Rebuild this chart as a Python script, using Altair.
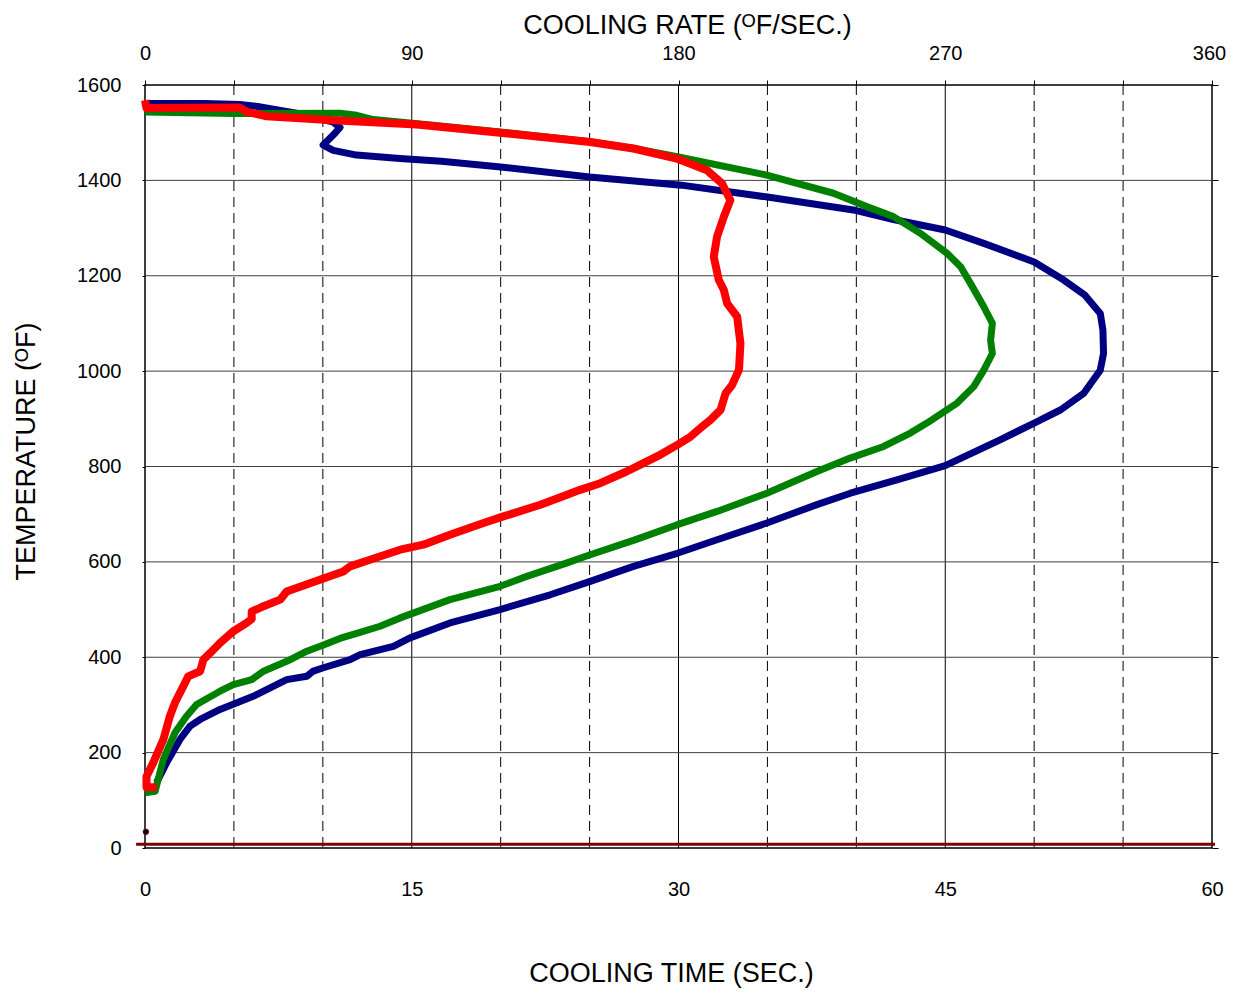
import altair as alt
import pandas as pd

# ---- data (x in cooling-rate units, deg F / sec; y in deg F) ----
blue_rate = [0, 20, 32, 38, 52, 63.5, 65.8, 63.5, 60.1, 63.5, 71.4, 86, 100, 120, 150, 181, 210, 239,
             252.5, 270, 283, 300, 310, 317, 322.3, 323.2, 323.4, 322.3, 316.8, 309, 300, 288.5, 270,
             253.7, 238, 226.7, 209.8, 193, 179.6, 164.8, 150.2, 136.7, 119.8, 102.9, 89.4,
             83.8, 72.6, 69.2, 60.2, 56.8, 54.6, 47.8, 36.5, 25.3, 18.6, 15.2, 11.8, 7.3, 3.9]
blue_temp = [1561, 1561, 1559, 1555, 1540, 1522, 1511, 1495, 1474, 1463, 1453, 1446, 1440, 1428, 1407,
             1390, 1365, 1338, 1318, 1296, 1268, 1229, 1191, 1160, 1121, 1086, 1037, 1002, 954, 919, 891,
             856, 802, 772, 744, 720, 681.5, 646.5, 618, 590.6, 559, 531, 500, 472, 440.6, 423,
             405.7, 395, 378, 371, 360, 353, 318, 290.5, 269.5, 255.5, 227.6, 179, 137]

green_rate = [0, 29.8, 65.8, 71.4, 77, 97.2, 119.8, 150, 165, 180, 209.8, 232.3, 243.5, 252.5, 261.6,
              270.6, 275.2, 278.5, 283, 285.9, 285.3, 285.9, 283, 279.6, 274, 263.8, 258.2, 249.2, 237.9,
              226.7, 209.8, 193, 179.6, 164.8, 150.2, 142.4, 128.8, 119.8, 102.9, 86.1, 79.3, 72, 66, 60,
              54.6, 48, 40, 36, 29.8, 25.3, 17.4, 14, 10.1, 6.2, 3.4, 0]
green_temp = [1543.5, 1540, 1541, 1536.5, 1527.5, 1515.6, 1501.6, 1481, 1467, 1449, 1411, 1373, 1345, 1324,
              1289, 1247, 1219, 1184, 1135, 1100, 1065, 1037, 1002, 967.5, 933, 891, 870, 842, 817.6, 789.5,
              744, 705.8, 678, 645, 615, 598, 569.6, 548.7, 520.8, 482.5, 465, 451, 440, 425, 412.6, 392,
              370.7, 353, 342.8, 328.8, 301, 276.4, 241.7, 185.8, 119, 116]

red_rate = [0, 0.5, 32, 34.3, 41, 63.5, 91.7, 119.8, 150.2, 164.8, 179.4, 189.6, 194.7, 197.5, 195.3, 193,
            191.9, 193.6, 195.3, 196.4, 199.8, 200.9, 200.4, 198.1, 195.9, 194.2, 190.8, 188, 184.1, 179.6,
            173.8, 168.2, 162.5, 153.6, 146.8, 142.4, 133.4, 120.9, 114.2, 102.9, 93.9, 86.1, 75.9, 69.2,
            66.9, 59, 47.8, 45.6, 40, 38.8, 36, 36, 34.3, 29.8, 25.3, 22, 19.7, 18.6, 14.6, 12.9, 10.1,
            8.4, 6.2, 2.8, 0.5, 0.5, 4]
red_temp = [1568, 1552, 1552.6, 1543.5, 1534.5, 1526, 1517, 1500, 1480.6, 1466.8, 1445.8, 1421.4, 1393.5,
            1358.5, 1323.6, 1281.7, 1239.8, 1191, 1170, 1142, 1114, 1058, 1002.5, 971, 953.7, 918.7, 897.8,
            883.8, 862.8, 845.4, 824.5, 807, 789.5, 765, 751, 740.7, 719.8, 695.3, 681.5, 657, 636, 625.5,
            604.6, 590.6, 580, 562.7, 538, 520.8, 507, 503.4, 496, 480, 472, 454.5, 430, 409, 395, 370.7,
            360, 339, 304.5, 276.4, 227.6, 179, 150, 128, 127]

solid_rates = [90, 180, 270]
dashed_rates = [30, 60, 120, 150, 210, 240, 300, 330]
h_grid = [200, 400, 600, 800, 1000, 1200, 1400]
bottom_ticks = [0, 90, 180, 270, 360]          # shown as 0..60 sec
top_ticks = [0, 30, 60, 90, 120, 150, 180, 210, 240, 270, 300, 330, 360]
y_ticks = [0, 200, 400, 600, 800, 1000, 1200, 1400, 1600]
base_line = {"rate": [-3], "rate2": [361], "temp": [8]}
dot = {"rate": [0.3], "temp": [34]}

FONT = "Liberation Sans"


def series_df(r, t):
    return pd.DataFrame({"rate": r, "temp": t, "idx": list(range(len(r)))})


XS = alt.Scale(domain=[0, 360], nice=False, zero=False)
YS = alt.Scale(domain=[0, 1600], nice=False, zero=False)

x_bottom = alt.Axis(values=bottom_ticks, labelExpr="format(datum.value/6, 'd')", ticks=False,
                    domain=False, grid=False, labelFlush=False, labelPadding=31,
                    title="COOLING TIME (SEC.)", titlePadding=61, titleX=526, labelFontSize=20,
                    titleFontSize=27, titleFontWeight="normal", labelColor="black", titleColor="black",
                    labelFont=FONT, titleFont=FONT)
y_left = alt.Axis(values=y_ticks, format="d", ticks=True, tickSize=3, tickColor="black", domain=False,
                  grid=False, labelPadding=21, title="TEMPERATURE  (ᴼF)", titlePadding=36, titleY=366,
                  labelFontSize=20, titleFontSize=27, titleFontWeight="normal", labelColor="black",
                  titleColor="black", labelFont=FONT, titleFont=FONT)
x_top = alt.Axis(orient="top", values=top_ticks,
                 labelExpr="datum.value % 90 == 0 ? datum.label : ''", ticks=True, tickSize=5,
                 tickColor="black", domain=False, grid=False, labelFlush=False, labelPadding=17,
                 labelOffset={"condition": {"test": "datum.value == 360", "value": -3}, "value": 0},
                 labelOverlap=False, title="COOLING RATE (ᴼF/SEC.)", titlePadding=4, titleX=542,
                 labelFontSize=20, titleFontSize=27, titleFontWeight="normal", labelColor="black",
                 titleColor="black", labelFont=FONT, titleFont=FONT)
y_right = alt.Axis(orient="right", values=y_ticks, labels=False, ticks=True, tickSize=6,
                   tickColor="black", domain=False, grid=False, title=None)


def X(field="rate:Q"):
    return alt.X(field, scale=XS, axis=x_bottom)


def Y(field="temp:Q"):
    return alt.Y(field, scale=YS, axis=y_left)


dashed = alt.Chart(pd.DataFrame({"rate": dashed_rates})).mark_rule(
    color="black", strokeWidth=1, strokeDash=[10, 6]).encode(x=X())
solid = alt.Chart(pd.DataFrame({"rate": solid_rates})).mark_rule(
    color="black", strokeWidth=1).encode(x=X())
hgrid = alt.Chart(pd.DataFrame({"temp": h_grid})).mark_rule(
    color="#404040", strokeWidth=1).encode(y=Y())


def curve(r, t, color, w):
    return alt.Chart(series_df(r, t)).mark_line(
        color=color, strokeWidth=w, strokeJoin="round", strokeCap="butt").encode(
        x=X(), y=Y(), order="idx:Q")


blue = curve(blue_rate, blue_temp, "#000080", 7)
green = curve(green_rate, green_temp, "#008000", 7)
red = curve(red_rate, red_temp, "#FF0000", 8)

pt = alt.Chart(pd.DataFrame(dot)).mark_point(
    filled=True, color="black", stroke="#800000", strokeWidth=1, size=30, opacity=1).encode(x=X(), y=Y())

main = alt.layer(dashed, solid, hgrid, blue, green, red, pt)

baseline = alt.Chart(pd.DataFrame(base_line)).mark_rule(color="#800000", strokeWidth=3).encode(
    x=alt.X("rate:Q", scale=XS, axis=x_top),
    x2="rate2:Q",
    y=alt.Y("temp:Q", scale=YS, axis=y_right),
)

chart = alt.layer(main, baseline).resolve_scale(x="shared", y="shared").resolve_axis(
    x="independent", y="independent").properties(
    width=1067, height=763,
    autosize=alt.AutoSizeParams(type="none"),
    padding={"left": 137, "top": 77, "right": 15, "bottom": 140},
    background="white",
).configure_view(stroke="black", strokeWidth=1.5)

chart.save("out.html", embed_options={"renderer": "svg", "actions": False})
